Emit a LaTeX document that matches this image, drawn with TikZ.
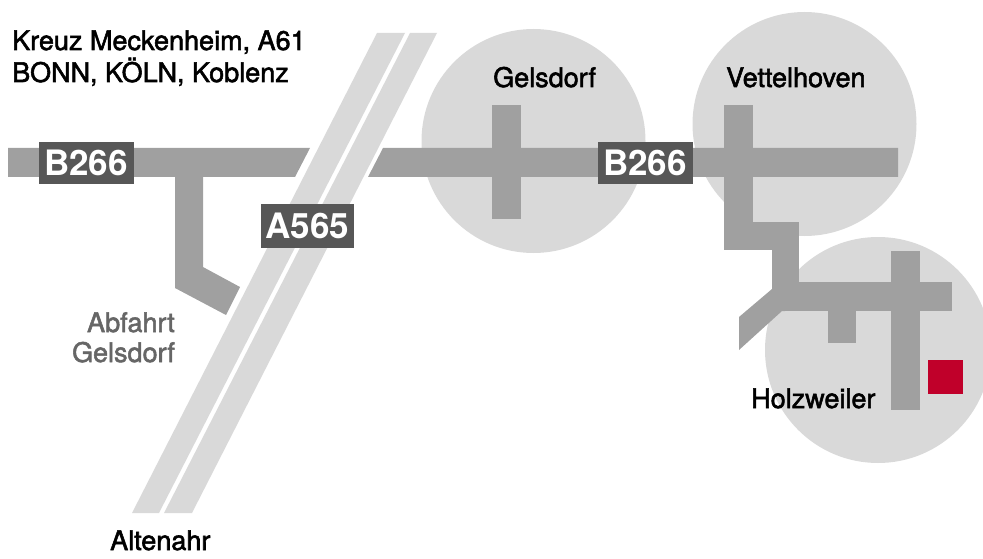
\documentclass[tikz,border=0pt]{standalone}
\usepackage{fontspec}
\setmainfont{TeX Gyre Heros}
\newfontfamily\medfont{TeX Gyre Heros}[FakeBold=2]
\definecolor{roadgrey}{HTML}{A0A0A0}
\definecolor{areagrey}{HTML}{D9D9D9}
\definecolor{shieldgrey}{HTML}{575757}
\definecolor{labelgrey}{HTML}{666666}
\definecolor{markred}{HTML}{C0002A}
\begin{document}
\begin{tikzpicture}[x=1pt,y=-1pt,
  road/.style={fill=roadgrey,draw=none},
  area/.style={fill=areagrey,draw=none},
  place/.style={inner sep=0pt,font=\medfont\fontsize{27}{30}\selectfont,text=black},
  exitlabel/.style={inner sep=0pt,font=\medfont\fontsize{27}{30}\selectfont,text=labelgrey},
  shield/.style={fill=shieldgrey,text=white,inner sep=0pt,font=\fontsize{35}{38}\selectfont\bfseries,minimum width=95,minimum height=42}
]
\useasboundingbox (0,0) rectangle (983,559);
\clip (0,0) rectangle (983,559);
% village areas
\fill[area] (533.5,141) circle[radius=112];
\fill[area] (804.5,124) circle[radius=112];
\fill[area] (878,350) circle[radius=113];
% motorway A565
\fill[area] (377,33) -- (405,33) -- (159,513) -- (132,513) -- cycle;
\fill[area] (410,33) -- (437,33) -- (192,513) -- (164,513) -- cycle;
% B266
\fill[road] (8,148) -- (310,148) -- (295,177) -- (8,177) -- cycle;
\fill[road] (383,148) -- (898,148) -- (898,177) -- (368,177) -- cycle;
% exit ramp
\fill[road] (175,177) -- (203,177) -- (203,267) -- (240,287) -- (226,315) -- (175,288) -- cycle;
% Gelsdorf
\fill[road] (492,105) rectangle (521,219);
% Vettelhoven / Holzweiler
\fill[road] (724,105) rectangle (753,250);
\fill[road] (724,222) rectangle (799,250);
\fill[road] (772,222) rectangle (799,311);
\fill[road] (772,282) rectangle (952,311);
\fill[road] (828,305) rectangle (856,343);
\fill[road] (891,251) rectangle (920,410);
\fill[road] (739,317) -- (772,289) -- (785,289) -- (785,311) -- (782,311) -- (739,350) -- cycle;
% destination
\fill[markred] (928,360) rectangle (963,394);
% labels
\node[shield] (b266a) at (86,163) {B266};
\node[shield] (b266b) at (645,163) {B266};
\node[shield,minimum width=93,minimum height=44] (a565) at (307.5,226) {A565};
\node[place,anchor=base west] (kreuz) at (12,50) {Kreuz Meckenheim, A61};
\node[place,anchor=base west] (bonn) at (12,82) {BONN, KÖLN, Koblenz};
\node[place,anchor=base west] (gelsdorf) at (493,87) {Gelsdorf};
\node[place,anchor=base west] (vettelhoven) at (726,87) {Vettelhoven};
\node[place,anchor=base west] (holzweiler) at (751,408) {Holzweiler};
\node[place,anchor=base west] (altenahr) at (110,550) {Altenahr};
\node[exitlabel,anchor=base east] (abfahrt) at (175,332) {Abfahrt};
\node[exitlabel,anchor=base east] (abfahrtg) at (175,362) {Gelsdorf};
\end{tikzpicture}
\end{document}
